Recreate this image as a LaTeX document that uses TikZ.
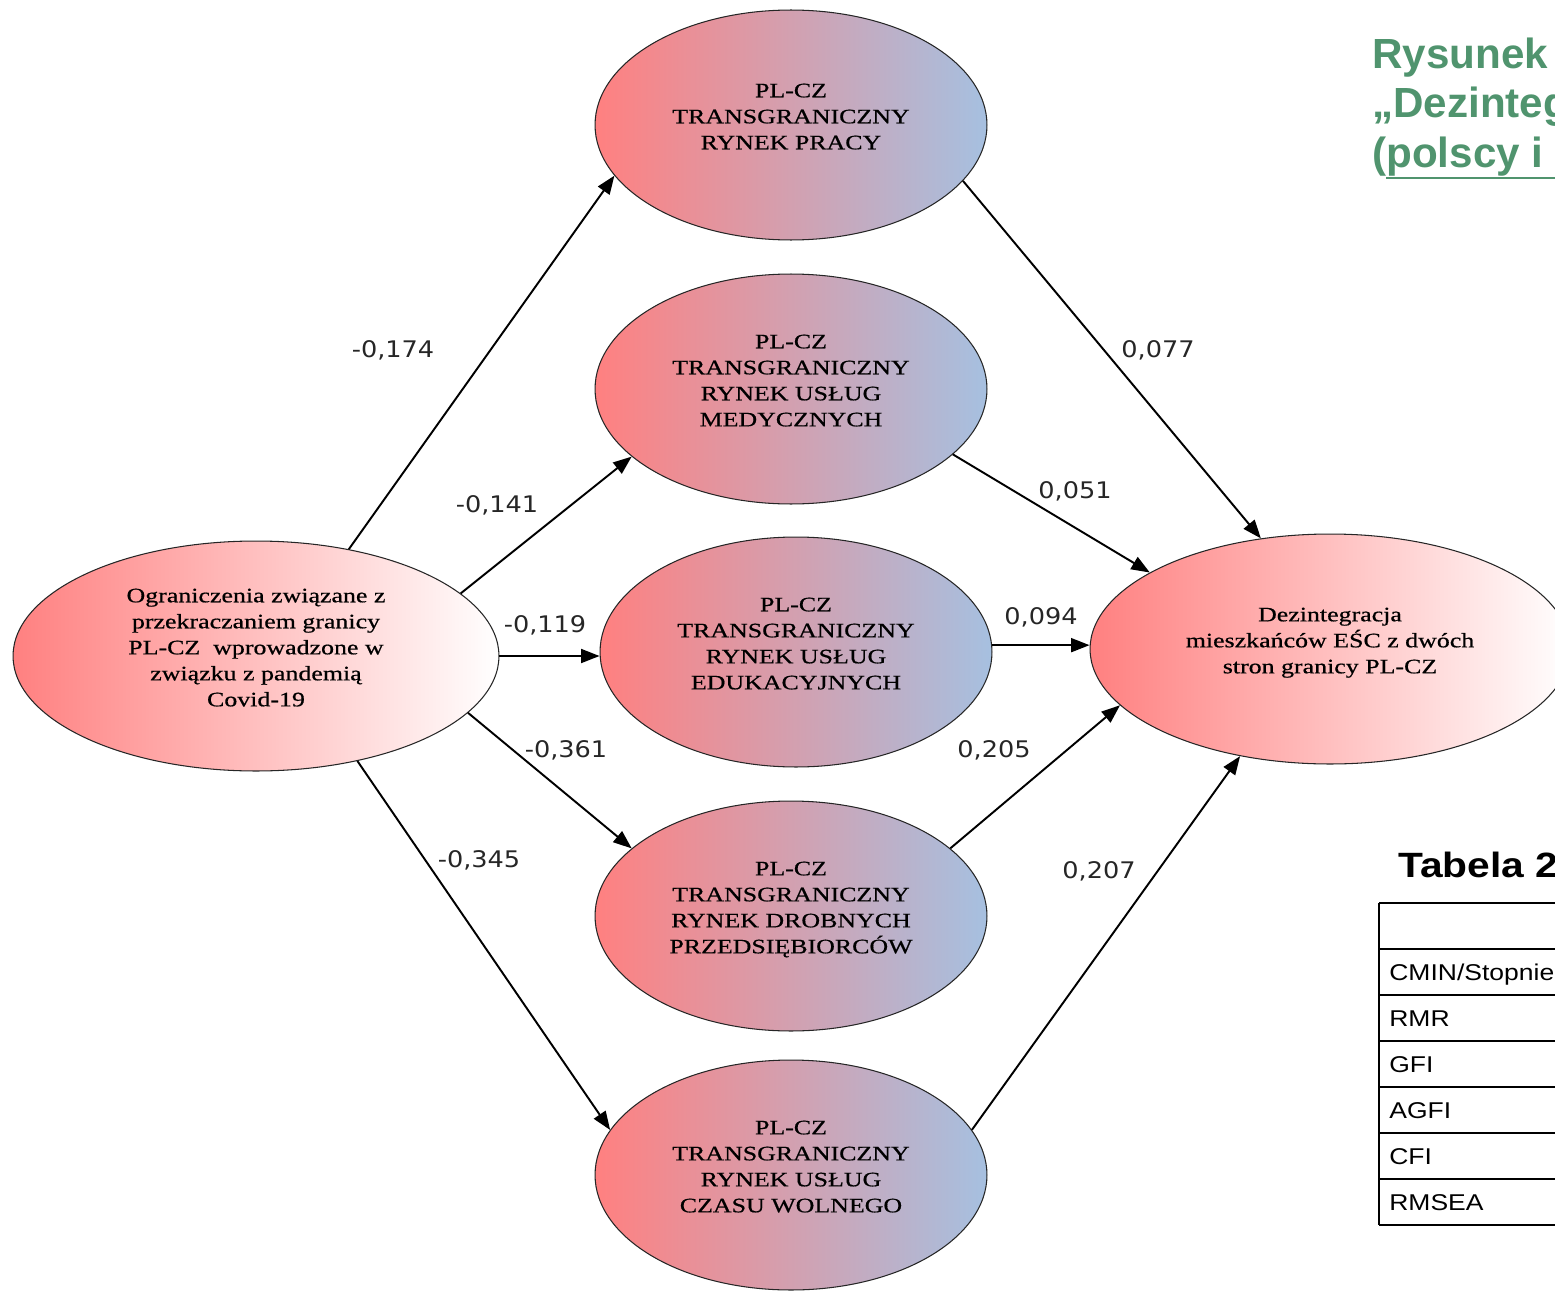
\documentclass[tikz,border=0pt]{standalone}
\usepackage{fontspec}
\setmainfont{Liberation Serif}
\newfontfamily\nodefont[FakeStretch=1.26,FakeBold=0.6]{Liberation Serif}
\newfontfamily\labfont[FakeStretch=1.12]{DejaVu Sans}
\newfontfamily\titlefont{Liberation Sans}
\newfontfamily\tabfont[FakeStretch=1.16]{Liberation Sans}
\usetikzlibrary{shapes.geometric,arrows.meta}
\definecolor{titlegreen}{RGB}{80,148,110}
\definecolor{redend}{RGB}{255,128,128}
\definecolor{blueend}{RGB}{166,192,224}
\begin{document}
\begin{tikzpicture}[x=0.02cm,y=-0.02cm,
  ell/.style={ellipse,draw=black!85,line width=0.6pt,inner sep=0pt,align=center,
    text depth=0.34cm,font=\nodefont\fontsize{11.7}{14.8}\selectfont},
  mid/.style={ell,left color=redend,right color=blueend,minimum width=7.84cm,minimum height=4.6cm},
  endp/.style={ell,left color=redend,right color=white,minimum height=4.6cm},
  arr/.style={-{Triangle[length=0.37cm,width=0.28cm]},line width=1.1pt},
  coef/.style={font=\labfont\fontsize{13}{15}\selectfont,inner sep=0pt,text=black!85},
  ttl/.style={anchor=base west,inner sep=0pt,text=titlegreen,font=\titlefont\bfseries\fontsize{24}{28}\selectfont},
  cell/.style={anchor=base west,inner sep=0pt,font=\tabfont\fontsize{13}{15}\selectfont},
  rule/.style={line width=1.4pt}]
\useasboundingbox (0,0) rectangle (1555,1291);
\clip (0,0) rectangle (1555,1291);

% ellipses
\node[mid] (P) at (791,125) {PL-CZ\\TRANSGRANICZNY\\RYNEK PRACY};
\node[mid] (M) at (791,389) {PL-CZ\\TRANSGRANICZNY\\RYNEK USŁUG\\MEDYCZNYCH};
\node[mid] (E) at (796,652) {PL-CZ\\TRANSGRANICZNY\\RYNEK USŁUG\\EDUKACYJNYCH};
\node[mid] (D) at (791,916) {PL-CZ\\TRANSGRANICZNY\\RYNEK DROBNYCH\\PRZEDSIĘBIORCÓW};
\node[mid] (C) at (791,1175) {PL-CZ\\TRANSGRANICZNY\\RYNEK USŁUG\\CZASU WOLNEGO};
\node[endp,minimum width=9.72cm] (L) at (256,656) {Ograniczenia związane z\\przekraczaniem granicy\\PL-CZ\ \ wprowadzone w\\związku z pandemią\\Covid-19};
\node[endp,minimum width=9.6cm] (R) at (1330,649) {Dezintegracja\\mieszkańców EŚC z dwóch\\stron granicy PL-CZ};

% arrows
\draw[arr] (L.49) -- (P.196);
\draw[arr] (L.17) -- (M.203);
\draw[arr] (L.east) -- (L.east -| E.west);
\draw[arr] (L.345) -- (D.157);
\draw[arr] (L.314) -- (C.166);
\draw[arr] (P.342) -- (R.122);
\draw[arr] (M.338) -- (R.157);
\draw[arr] (E.2.5) -- (E.2.5 -| R.west);
\draw[arr] (D.23.5) -- (R.195);
\draw[arr] (C.14) -- (R.230);

% coefficients
\node[coef] (c1) at (393,350) {-0,174};
\node[coef] (c2) at (497,505) {-0,141};
\node[coef] (c3) at (545,625) {-0,119};
\node[coef] (c4) at (566,750) {-0,361};
\node[coef] (c5) at (479,860) {-0,345};
\node[coef] (c6) at (1158,350) {0,077};
\node[coef] (c7) at (1075,491) {0,051};
\node[coef] (c8) at (1041,617) {0,094};
\node[coef] (c9) at (994,750) {0,205};
\node[coef] (c10) at (1099,871) {0,207};

% title (cut at right edge, as in the reference)
\node[ttl] (t1) at (1372,69) {Rysunek};
\node[ttl] (t2) at (1372,117) {„Dezinteg};
\node[ttl] (t3) at (1372,167) {(polscy i};
\draw[titlegreen,line width=1.4pt] (1386,178) -- (1560,178);

% table (cut at right edge, as in the reference)
\node[anchor=base west,inner sep=0pt,font=\tabfont\bfseries\fontsize{20}{24}\selectfont] (tb) at (1398,877) {Tabela 2};
\draw[rule] (1379,903) -- (1379,1225);
\foreach \yy in {903,949,995,1041,1087,1133,1179,1225}
  \draw[rule] (1379,\yy) -- (1560,\yy);
\node[cell] (r1) at (1389,980) {CMIN/Stopnie};
\node[cell] (r2) at (1389,1026) {RMR};
\node[cell] (r3) at (1389,1072) {GFI};
\node[cell] (r4) at (1389,1118) {AGFI};
\node[cell] (r5) at (1389,1164) {CFI};
\node[cell] (r6) at (1389,1210) {RMSEA};
\end{tikzpicture}
\end{document}
